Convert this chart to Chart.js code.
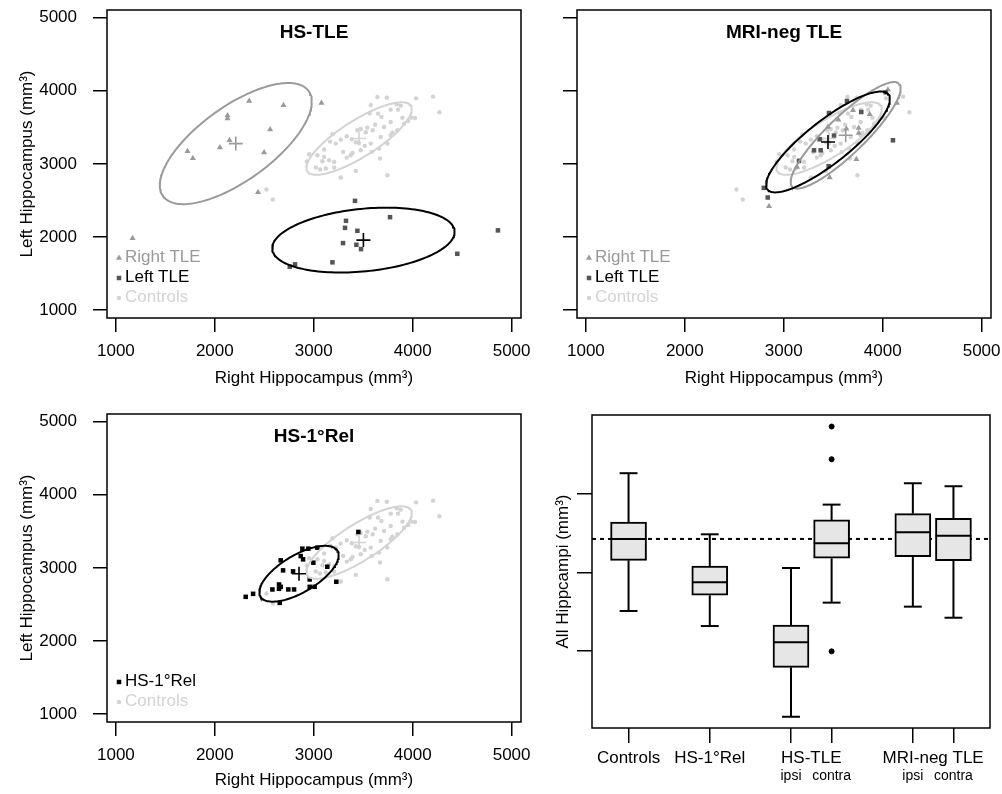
<!DOCTYPE html>
<html>
<head>
<meta charset="utf-8">
<script src="https://cdn.jsdelivr.net/npm/chart.js@4.4.1/dist/chart.umd.min.js"></script>
<style>
  html, body { margin: 0; padding: 0; background: #fff; }
  #wrap { position: relative; width: 1002px; height: 794px; overflow: hidden; }
  canvas { position: absolute; }
</style>
</head>
<body>
<div id="wrap">
  <canvas id="hsTle" width="540" height="397" style="left:0;top:0"></canvas>
  <canvas id="mriNeg" width="462" height="397" style="left:540px;top:0"></canvas>
  <canvas id="hsRel" width="540" height="397" style="left:0;top:397px"></canvas>
  <canvas id="allHippo" width="462" height="397" style="left:540px;top:397px"></canvas>
</div>
<script>
// volumes in mm3, [right hippocampus, left hippocampus]
const axisTicks = [1000, 2000, 3000, 4000, 5000];

const controls = [
  [3643,3914],[3738,3905],[4034,3896],[4206,3919],[4270,3705],[3576,3805],[3839,3814],[3879,3796],
  [3778,3741],[3852,3741],[3650,3687],[3566,3687],[3684,3641],[3896,3632],[3987,3632],[4024,3627],
  [3778,3573],[3953,3586],[3913,3550],[3475,3477],[3542,3495],[3596,3459],[3441,3459],[3526,3432],
  [3620,3536],[3711,3504],[3795,3427],[3845,3459],[3189,3404],[3334,3377],[3273,3331],[3384,3336],
  [3425,3295],[3458,3286],[3515,3245],[3576,3277],[3677,3368],[3165,3304],[3223,3277],[3660,3208],
  [3586,3163],[3475,3186],[3391,3149],[3297,3163],[3105,3195],[3105,3095],[3037,3117],[2953,3131],
  [2930,3031],[3088,3035],[3155,3049],[3206,3026],[3334,3085],[3374,3117],[3122,2935],[3064,2922],
  [3206,2949],[3021,2949],[3425,2903],[3273,2812],[3744,2844],[2522,2648],[2586,2512],[3744,3277],
  [3670,3072],[3778,3391]
];
const hsRightTle = [[2347,3859],[2694,3800],[2128,3660],[2128,3619],[2559,3469],[2148,3322],[2051,3223],
  [2498,3154],[1724,3172],[1778,3077],[2437,2612],[1168,1980],[3078,3833]];
const hsLeftTle = [[3417,2493],[3326,2220],[3771,2270],[3316,2124],[3441,2083],[3296,1915],[3431,1892],
  [3478,1833],[3189,1652],[4451,1769],[4862,2089],[2811,1624],[2758,1592]];
const mriRightTle = [[4053,4014],[4144,3832],[3868,3677],[3552,3604],[3757,3491],[3757,3422],[3633,3481],
  [3447,3504],[3734,3062],[3464,2812],[3134,2958],[2851,2420],[3700,3732]];
const mriLeftTle = [[4030,3978],[3784,3709],[3639,3859],[3457,3695],[3363,3336],[3306,3185],[3373,3185],
  [3508,3386],[3154,3040],[3454,2967],[4104,3322],[2798,2671],[2838,2539]];
const hsRel = [[3451,3491],[2885,3262],[2945,3262],[2868,3161],[2892,3116],[2666,3102],[2996,3070],
  [2690,2965],[2791,2951],[3137,3015],[3228,2809],[2959,2841],[3009,2740],[2959,2740],[2649,2772],
  [2666,2740],[2649,2713],[2582,2704],[2743,2704],[2801,2704],[2312,2603],[2387,2644],[2656,2520],[3036,3276]];

// group means (the + marks)
const controlsMean = [3458, 3346];
const hsRightMean = [2212, 3277];
const hsLeftMean = [3502, 1956];
const mriRightMean = [3626, 3390];
const mriLeftMean = [3447, 3299];
const hsRelMean = [2851, 2919];

// ellipse half-widths (x, y) and correlation
const controlsSpread = [533, 496, 0.81];
const hsRightSpread = [768, 829, 0.69];
const hsLeftSpread = [922, 444, 0.25];
const mriRightSpread = [556, 729, 0.88];
const mriLeftSpread = [626, 690, 0.85];
const hsRelSpread = [401, 382, 0.66];

// boxplot of all hippocampi
const boxCategories = ["Controls", "HS-1°Rel", "HS-TLE ipsi", "HS-TLE contra", "MRI-neg TLE ipsi", "MRI-neg TLE contra"];
const boxPositions = [1, 3, 5, 6, 8, 9];
const boxLow = [2510, 2318, 1163, 2616, 2565, 2424];
const boxQ1 = [3155, 2710, 1792, 3181, 3202, 3150];
const boxMedian = [3427, 2875, 2111, 3372, 3512, 3469];
const boxQ3 = [3643, 3083, 2331, 3669, 3750, 3690];
const boxHigh = [4264, 3486, 3057, 3864, 4136, 4098];
const boxOutlierGroup = [3, 3, 3];
const boxOutlierValue = [4858, 4442, 1996];
const boxTicks = [2000, 3000, 4000];
const groupLabels = ["Controls", "HS-1°Rel", "HS-TLE", "MRI-neg TLE"];
const groupLabelPositions = [1, 3, 5.5, 8.5];
const sideLabels = ["ipsi", "contra", "ipsi", "contra"];
const sideLabelPositions = [5, 6, 8, 9];
const referenceLevel = 3427;

const RIGHT_COL = "#9a9a9a";
const LEFT_COL = "#555555";
const CTRL_COL = "#d3d3d3";
const FONT = '"Liberation Sans", Arial, Helvetica, sans-serif';

Chart.defaults.font.family = FONT;
Chart.defaults.font.size = 17;
Chart.defaults.color = "#000";

const toXY = pts => pts.map(p => ({ x: p[0], y: p[1] }));

function ellipse(centre, spread) {
  const d = Math.acos(spread[2]);
  const pts = [];
  for (let i = 0; i <= 160; i++) {
    const a = (i / 160) * 2 * Math.PI;
    pts.push({ x: centre[0] + spread[0] * Math.cos(a + d / 2), y: centre[1] + spread[1] * Math.cos(a - d / 2) });
  }
  return pts;
}

const pointSet = (data, style, color, radius) => ({
  data: toXY(data), pointStyle: style, pointRadius: radius, pointBorderWidth: 0,
  backgroundColor: color, borderColor: color
});
const ellipseSet = (centre, spread, color) => ({
  data: ellipse(centre, spread), showLine: true, pointRadius: 0, borderColor: color, borderWidth: 2, fill: false
});
const crossSet = (centre, color) => ({
  data: toXY([centre]), pointStyle: "cross", pointRadius: 7, borderColor: color, borderWidth: 1.6
});

const panelDecor = {
  id: "panelDecor",
  afterDraw(chart, args, opts) {
    const { ctx, chartArea: a } = chart;
    ctx.save();
    ctx.strokeStyle = "#000";
    ctx.lineWidth = 1.5;
    ctx.strokeRect(a.left, a.top, a.right - a.left, a.bottom - a.top);
    if (opts.title) {
      ctx.font = "bold 19px " + FONT;
      ctx.fillStyle = "#000";
      ctx.textAlign = "center";
      ctx.textBaseline = "middle";
      ctx.fillText(opts.title, (a.left + a.right) / 2, a.top + 23);
    }
    const items = opts.legend || [];
    items.forEach((it, i) => {
      const y = a.bottom - 21 - (items.length - 1 - i) * 20;
      ctx.fillStyle = it.color;
      ctx.strokeStyle = it.color;
      ctx.lineWidth = 0;
      Chart.helpers.drawPoint(ctx, { pointStyle: it.style, radius: it.radius, rotation: 0, borderWidth: 0 }, a.left + 12, y + 1);
      ctx.fillStyle = it.textColor;
      ctx.font = "17px " + FONT;
      ctx.textAlign = "left";
      ctx.textBaseline = "middle";
      ctx.fillText(it.text, a.left + 18, y);
    });
    ctx.restore();
  }
};

function scatterPanel(id, datasets, p) {
  return new Chart(document.getElementById(id), {
    type: "scatter",
    data: { datasets },
    options: {
      responsive: false,
      animation: false,
      devicePixelRatio: 1,
      layout: { autoPadding: false, padding: { top: p.top, right: p.right, left: 0, bottom: 0 } },
      plugins: {
        legend: { display: false },
        tooltip: { enabled: false },
        panelDecor: { title: p.title, legend: p.legend }
      },
      scales: {
        x: {
          type: "linear", min: 910, max: 5095,
          afterBuildTicks: s => { s.ticks = axisTicks.map(v => ({ value: v })); },
          afterFit: s => { s.height = p.xHeight; s.paddingLeft = 0; s.paddingRight = 0; },
          ticks: { padding: 9, font: { size: 17 }, callback: v => String(v) },
          grid: { drawOnChartArea: false, tickLength: 14, color: "#000", lineWidth: 1.5 },
          border: { display: false },
          title: { display: true, text: "Right Hippocampus (mm³)", font: { size: 17 }, padding: { top: 0, bottom: p.titleBottom } }
        },
        y: {
          type: "linear", min: 890, max: 5105,
          afterBuildTicks: s => { s.ticks = axisTicks.map(v => ({ value: v })); },
          afterFit: s => { s.width = p.yWidth; s.paddingTop = 0; s.paddingBottom = 0; },
          ticks: { display: p.yLabels, padding: 16, font: { size: 17 }, callback: v => String(v) },
          grid: { drawOnChartArea: false, tickLength: 14, color: "#000", lineWidth: 1.5 },
          border: { display: false },
          title: { display: p.yLabels, text: "Left Hippocampus (mm³)", font: { size: 17 }, padding: { top: 17, bottom: 0 } }
        }
      }
    },
    plugins: [panelDecor]
  });
}

const tleLegend = [
  { text: "Right TLE", style: "triangle", radius: 3.5, color: RIGHT_COL, textColor: RIGHT_COL },
  { text: "Left TLE", style: "rect", radius: 3.2, color: LEFT_COL, textColor: "#000" },
  { text: "Controls", style: "circle", radius: 2.2, color: CTRL_COL, textColor: CTRL_COL }
];

scatterPanel("hsTle", [
  crossSet(hsLeftMean, "#000"),
  crossSet(hsRightMean, RIGHT_COL),
  crossSet(controlsMean, CTRL_COL),
  ellipseSet(hsLeftMean, hsLeftSpread, "#000"),
  ellipseSet(hsRightMean, hsRightSpread, RIGHT_COL),
  ellipseSet(controlsMean, controlsSpread, CTRL_COL),
  pointSet(hsLeftTle, "rect", LEFT_COL, 3.2),
  pointSet(hsRightTle, "triangle", RIGHT_COL, 3.5),
  pointSet(controls, "circle", CTRL_COL, 2.2)
], { title: "HS-TLE", legend: tleLegend, top: 10, right: 19, xHeight: 79, yWidth: 107, yLabels: true, titleBottom: 8 });

scatterPanel("mriNeg", [
  crossSet(mriLeftMean, "#000"),
  crossSet(mriRightMean, RIGHT_COL),
  crossSet(controlsMean, CTRL_COL),
  ellipseSet(mriLeftMean, mriLeftSpread, "#000"),
  ellipseSet(mriRightMean, mriRightSpread, RIGHT_COL),
  ellipseSet(controlsMean, controlsSpread, CTRL_COL),
  pointSet(mriLeftTle, "rect", LEFT_COL, 3.2),
  pointSet(mriRightTle, "triangle", RIGHT_COL, 3.5),
  pointSet(controls, "circle", CTRL_COL, 2.2)
], { title: "MRI-neg TLE", legend: tleLegend, top: 10, right: 11, xHeight: 79, yWidth: 37, yLabels: false, titleBottom: 8 });

scatterPanel("hsRel", [
  crossSet(hsRelMean, "#000"),
  crossSet(controlsMean, CTRL_COL),
  ellipseSet(hsRelMean, hsRelSpread, "#000"),
  ellipseSet(controlsMean, controlsSpread, CTRL_COL),
  pointSet(hsRel, "rect", "#000", 3.2),
  pointSet(controls, "circle", CTRL_COL, 2.2)
], {
  title: "HS-1°Rel",
  legend: [
    { text: "HS-1°Rel", style: "rect", radius: 3.2, color: "#000", textColor: "#000" },
    { text: "Controls", style: "circle", radius: 2.2, color: CTRL_COL, textColor: CTRL_COL }
  ],
  top: 17, right: 19, xHeight: 72, yWidth: 107, yLabels: true, titleBottom: 3
});

// boxplot: boxes are floating bars, whiskers/medians drawn from the same scales
const boxExtras = {
  id: "boxExtras",
  beforeDatasetsDraw(chart) {
    const { ctx, chartArea: a, scales: { y } } = chart;
    const yr = y.getPixelForValue(referenceLevel);
    ctx.save();
    ctx.strokeStyle = "#000";
    ctx.lineWidth = 2;
    ctx.setLineDash([4, 4]);
    ctx.beginPath();
    ctx.moveTo(a.left, yr);
    ctx.lineTo(a.right, yr);
    ctx.stroke();
    ctx.restore();
  },
  afterDatasetsDraw(chart) {
    const { ctx, scales: { x, y } } = chart;
    ctx.save();
    ctx.strokeStyle = "#000";
    ctx.lineWidth = 2;
    const seg = (x1, y1, x2, y2) => { ctx.beginPath(); ctx.moveTo(x1, y1); ctx.lineTo(x2, y2); ctx.stroke(); };
    boxPositions.forEach((p, i) => {
      const cx = x.getPixelForValue(p);
      const half = x.getPixelForValue(p + 0.44) - cx;
      const cap = x.getPixelForValue(p + 0.22) - cx;
      seg(cx, y.getPixelForValue(boxQ3[i]), cx, y.getPixelForValue(boxHigh[i]));
      seg(cx, y.getPixelForValue(boxQ1[i]), cx, y.getPixelForValue(boxLow[i]));
      seg(cx - cap, y.getPixelForValue(boxHigh[i]), cx + cap, y.getPixelForValue(boxHigh[i]));
      seg(cx - cap, y.getPixelForValue(boxLow[i]), cx + cap, y.getPixelForValue(boxLow[i]));
      seg(cx - half, y.getPixelForValue(boxMedian[i]), cx + half, y.getPixelForValue(boxMedian[i]));
    });
    ctx.restore();
  },
  afterDraw(chart) {
    const { ctx, chartArea: a, scales: { x } } = chart;
    ctx.save();
    ctx.strokeStyle = "#000";
    ctx.lineWidth = 1.5;
    ctx.strokeRect(a.left, a.top, a.right - a.left, a.bottom - a.top);
    ctx.fillStyle = "#000";
    ctx.textAlign = "center";
    ctx.textBaseline = "middle";
    ctx.font = "17px " + FONT;
    groupLabels.forEach((t, i) => ctx.fillText(t, x.getPixelForValue(groupLabelPositions[i]), a.bottom + 30));
    ctx.font = "14px " + FONT;
    sideLabels.forEach((t, i) => ctx.fillText(t, x.getPixelForValue(sideLabelPositions[i]), a.bottom + 48));
    ctx.restore();
  }
};

new Chart(document.getElementById("allHippo"), {
  type: "bar",
  data: {
    labels: boxCategories,
    datasets: [
      {
        type: "scatter",
        data: boxOutlierGroup.map((g, i) => ({ x: boxPositions[g], y: boxOutlierValue[i] })),
        pointRadius: 2.5, backgroundColor: "#000", borderColor: "#000"
      },
      {
        type: "bar",
        data: boxPositions.map((p, i) => ({ x: p, y: [boxQ1[i], boxQ3[i]] })),
        backgroundColor: "#e6e6e6", borderColor: "#000", borderWidth: 2,
        borderSkipped: false, barThickness: 36
      }
    ]
  },
  options: {
    responsive: false,
    animation: false,
    devicePixelRatio: 1,
    layout: { autoPadding: false, padding: { top: 18, right: 12, left: 0, bottom: 0 } },
    plugins: { legend: { display: false }, tooltip: { enabled: false } },
    scales: {
      x: {
        type: "linear", min: 0.1, max: 9.9, offset: false,
        afterBuildTicks: s => { s.ticks = boxPositions.map(v => ({ value: v })); },
        afterFit: s => { s.height = 66; s.paddingLeft = 0; s.paddingRight = 0; },
        ticks: { display: false },
        grid: { offset: false, drawOnChartArea: false, tickLength: 15, color: "#000", lineWidth: 1.5 },
        border: { display: false }
      },
      y: {
        type: "linear", min: 1020, max: 5005,
        afterBuildTicks: s => { s.ticks = boxTicks.map(v => ({ value: v })); },
        afterFit: s => { s.width = 52; s.paddingTop = 0; s.paddingBottom = 0; },
        ticks: { display: false },
        grid: { drawOnChartArea: false, tickLength: 15, color: "#000", lineWidth: 1.5 },
        border: { display: false },
        title: { display: true, text: "All Hippcampi (mm³)", font: { size: 17 }, padding: { top: 13, bottom: 0 } }
      }
    }
  },
  plugins: [boxExtras]
});
</script>
</body>
</html>
